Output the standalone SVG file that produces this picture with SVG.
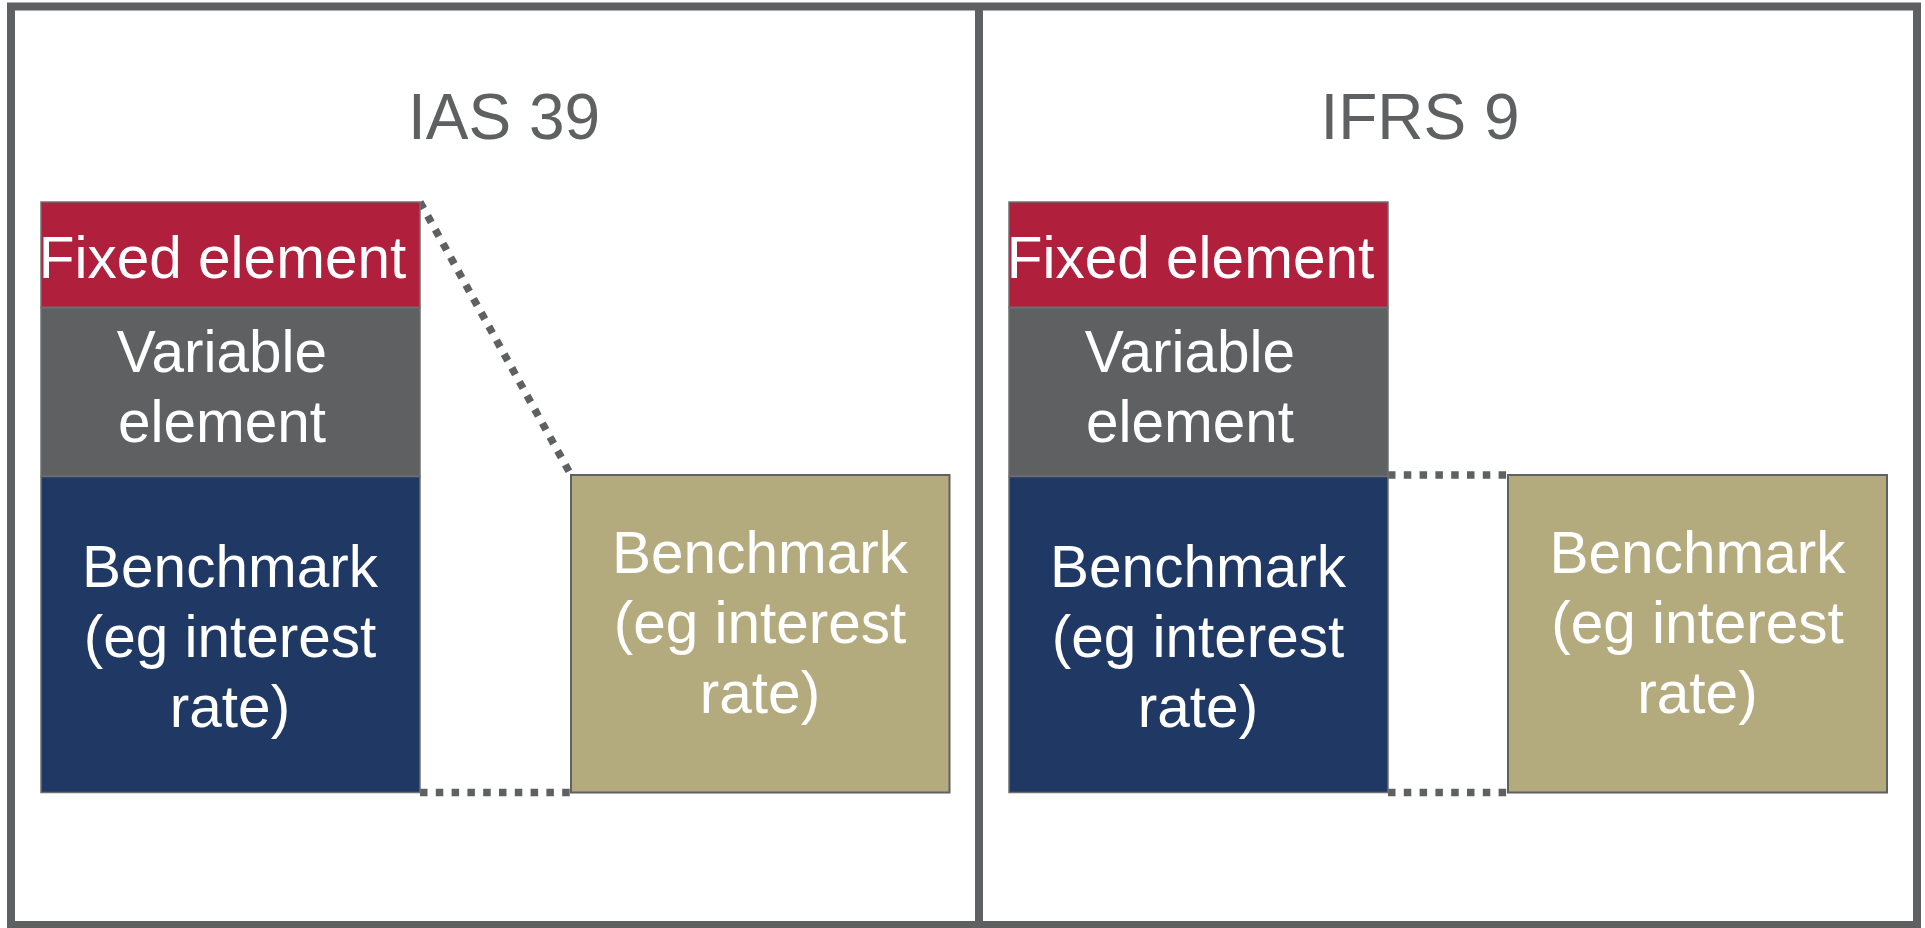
<svg xmlns="http://www.w3.org/2000/svg" width="1925" height="928" viewBox="0 0 1925 928">
<style>
.frame{fill:none;stroke:#5f6062;stroke-width:8}
.box{stroke:#6f6f70;stroke-width:1.5}
.red{fill:#b01f3c}
.grey{fill:#5f6062}
.blue{fill:#1f3864}
.tan{fill:#b3aa7e;stroke:#5f6062;stroke-width:2}
.t{font-family:"Liberation Sans",Arial,sans-serif;font-size:58.5px;fill:#ffffff;text-anchor:middle}
.title{font-family:"Liberation Sans",Arial,sans-serif;font-size:64px;fill:#5f6062;text-anchor:middle}
.dot{fill:none;stroke:#5f6062;stroke-width:7.5;stroke-dasharray:7.5 8.3}
</style>
<rect width="1925" height="928" fill="#ffffff"/>
<g id="frame">
<rect class="frame" x="11" y="6.5" width="1906" height="918.5"/>
<line class="frame" x1="979" y1="6.5" x2="979" y2="925"/>
</g>
<g id="title-ias39"><text class="title" x="504" y="139">IAS 39</text></g>
<g id="title-ifrs9"><text class="title" x="1420" y="139">IFRS 9</text></g>
<g id="connectors">
<line class="dot" x1="420" y1="202" x2="571" y2="475"/>
<line class="dot" x1="420" y1="792.5" x2="571" y2="792.5"/>
<line class="dot" x1="1388" y1="475" x2="1508" y2="475"/>
<line class="dot" x1="1388" y1="792.5" x2="1508" y2="792.5"/>
</g>
<g id="ias-fixed">
<rect class="box red" x="41" y="202" width="379" height="105.5"/>
<text class="t" x="222.5" y="278">Fixed element</text>
</g>
<g id="ias-variable">
<rect class="box grey" x="41" y="307.5" width="379" height="169"/>
<text class="t" x="222" y="372">Variable</text>
<text class="t" x="222" y="442">element</text>
</g>
<g id="ias-benchmark">
<rect class="box blue" x="41" y="476.5" width="379" height="316"/>
<text class="t" x="230" y="587">Benchmark</text>
<text class="t" x="230" y="657">(eg interest</text>
<text class="t" x="230" y="727">rate)</text>
</g>
<g id="ias-benchmark-only">
<rect class="tan" x="571" y="475" width="378.5" height="317.5"/>
<text class="t" x="760" y="573">Benchmark</text>
<text class="t" x="760" y="643">(eg interest</text>
<text class="t" x="760" y="713">rate)</text>
</g>
<g id="ifrs-fixed">
<rect class="box red" x="1009" y="202" width="379" height="105.5"/>
<text class="t" x="1190.5" y="278">Fixed element</text>
</g>
<g id="ifrs-variable">
<rect class="box grey" x="1009" y="307.5" width="379" height="169"/>
<text class="t" x="1190" y="372">Variable</text>
<text class="t" x="1190" y="442">element</text>
</g>
<g id="ifrs-benchmark">
<rect class="box blue" x="1009" y="476.5" width="379" height="316"/>
<text class="t" x="1198" y="587">Benchmark</text>
<text class="t" x="1198" y="657">(eg interest</text>
<text class="t" x="1198" y="727">rate)</text>
</g>
<g id="ifrs-benchmark-only">
<rect class="tan" x="1508" y="475" width="379" height="317.5"/>
<text class="t" x="1697.5" y="573">Benchmark</text>
<text class="t" x="1697.5" y="643">(eg interest</text>
<text class="t" x="1697.5" y="713">rate)</text>
</g>
</svg>
